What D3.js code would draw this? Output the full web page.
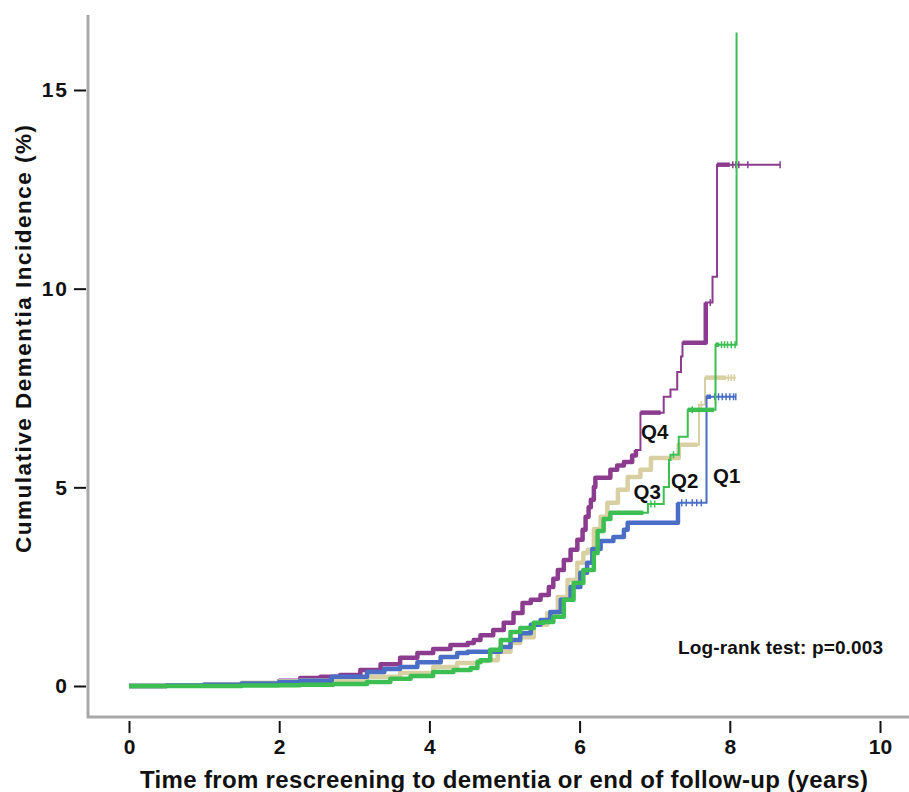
<!DOCTYPE html>
<html>
<head>
<meta charset="utf-8">
<script src="https://d3js.org/d3.v7.min.js"></script>
<style>
  body { margin: 0; background: #fff; }
  text { font-family: "Liberation Sans", Arial, Helvetica, sans-serif; font-weight: bold; fill: #111; }
</style>
</head>
<body>
<svg width="909" height="792"></svg>
<script>
// quartile groups, drawn in this order
const groups = ["Q4", "Q3", "Q1", "Q2"];
const colors = { Q1: "#4a6dc6", Q2: "#3dbe52", Q3: "#d8cfa2", Q4: "#8c3c8f" };

// Kaplan-Meier cumulative incidence steps: [time (years), incidence (%)]
const q1Steps = [[0,0],[0.5,0.01],[1,0.03],[1.5,0.06],[2,0.1],[2.28,0.13],[2.7,0.23],[3.17,0.35],[3.4,0.43],[3.61,0.48],[3.84,0.6],[4.15,0.73],[4.37,0.83],[4.51,0.86],[4.95,0.98],[5.08,1.16],[5.21,1.33],[5.35,1.54],[5.48,1.66],[5.61,1.86],[5.75,2.17],[5.88,2.49],[6.01,2.85],[6.1,3.1],[6.17,3.45],[6.28,3.65],[6.45,3.75],[6.59,3.93],[6.64,4.11],[7.31,4.61],[7.69,7.28]];
const q2Steps = [[0,0],[1,0],[1.5,0.01],[2,0.02],[2.28,0.03],[2.72,0.05],[3.17,0.1],[3.48,0.18],[3.75,0.25],[4.05,0.35],[4.32,0.4],[4.55,0.45],[4.64,0.6],[4.68,0.65],[4.81,0.91],[4.95,1.16],[5.08,1.36],[5.21,1.46],[5.39,1.59],[5.52,1.61],[5.65,1.74],[5.79,2.17],[5.92,2.59],[6.05,2.92],[6.19,3.35],[6.24,3.9],[6.32,4.2],[6.41,4.36],[6.91,4.58],[7.12,5.01],[7.19,5.69],[7.21,5.82],[7.32,6.27],[7.44,6.95],[7.81,8.59],[8.09,16.45]];
const q3Steps = [[0,0],[0.5,0.01],[1,0.04],[1.5,0.08],[2,0.12],[2.28,0.14],[2.72,0.15],[3.17,0.23],[3.61,0.33],[4.05,0.48],[4.37,0.58],[4.64,0.63],[4.77,0.65],[4.91,0.86],[5.08,1.08],[5.21,1.23],[5.39,1.54],[5.57,1.84],[5.71,2.24],[5.84,2.67],[5.97,3.1],[6.05,3.35],[6.11,3.43],[6.19,3.95],[6.28,4.26],[6.37,4.61],[6.51,4.94],[6.64,5.26],[6.81,5.44],[6.95,5.74],[7.32,6.07],[7.59,7.08],[7.67,7.76]];
const q4Steps = [[0,0],[0.5,0.01],[1,0.03],[1.5,0.07],[2,0.13],[2.28,0.2],[2.55,0.23],[2.81,0.28],[3.08,0.4],[3.35,0.55],[3.61,0.71],[3.84,0.83],[4.05,0.93],[4.28,1.03],[4.51,1.08],[4.59,1.16],[4.68,1.28],[4.85,1.41],[4.99,1.59],[5.12,1.84],[5.24,2.09],[5.35,2.17],[5.48,2.29],[5.59,2.49],[5.65,2.7],[5.71,2.92],[5.79,3.17],[5.88,3.43],[5.97,3.68],[6.04,3.93],[6.08,4.26],[6.12,4.5],[6.15,4.69],[6.19,5.01],[6.21,5.24],[6.41,5.44],[6.5,5.55],[6.59,5.64],[6.7,5.8],[6.75,5.94],[6.81,6.88],[7.12,7.28],[7.21,7.46],[7.3,7.9],[7.35,8.29],[7.37,8.64],[7.68,9.65],[7.77,10.3],[7.83,13.12]];

// last follow-up time of each group
const q1End = 8.08, q2End = 8.09, q3End = 8.08, q4End = 8.67;

// time spans with dense censoring (drawn as a thick band)
const q1Dense = [[0,7.31],[7.69,7.75]];
const q2Dense = [[0,6.85],[7.44,7.79],[7.81,7.86]];
const q3Dense = [[0,7.57],[7.67,7.95]];
const q4Dense = [[0,6.75],[6.81,7.08],[7.37,7.68],[7.83,8.0]];

// single censoring marks in the sparse tail
const q1Censor = [7.36,7.42,7.5,7.56,7.62,7.8,7.85,7.9,7.95,8.0,8.05,8.08];
const q2Censor = [6.95,7.0,7.25,7.5,7.89,7.93,7.97,8.02,8.07];
const q3Censor = [7.62,7.98,8.02,8.06];
const q4Censor = [7.74,8.04,8.08,8.12,8.24,8.67];

const xTicks = [0, 2, 4, 6, 8, 10];
const yTicks = [0, 5, 10, 15];

const series = {
  Q1: { steps: q1Steps, end: q1End, dense: q1Dense, censor: q1Censor },
  Q2: { steps: q2Steps, end: q2End, dense: q2Dense, censor: q2Censor },
  Q3: { steps: q3Steps, end: q3End, dense: q3Dense, censor: q3Censor },
  Q4: { steps: q4Steps, end: q4End, dense: q4Dense, censor: q4Censor }
};

const svg = d3.select("svg");
const x = d3.scaleLinear().domain([0, 10]).range([129, 880]);
const y = d3.scaleLinear().domain([0, 15]).range([686, 90]);

// frame
svg.append("line").attr("x1", 88).attr("x2", 88).attr("y1", 15).attr("y2", 718)
  .attr("stroke", "#a8a8a8").attr("stroke-width", 3);
svg.append("line").attr("x1", 87).attr("x2", 909).attr("y1", 717).attr("y2", 717)
  .attr("stroke", "#a8a8a8").attr("stroke-width", 3);

// axes
const xAxis = svg.append("g").attr("transform", "translate(0,721)")
  .call(d3.axisBottom(x).tickValues(xTicks).tickSize(12).tickPadding(6).tickFormat(d3.format("d")));
const yAxis = svg.append("g").attr("transform", "translate(86,0)")
  .call(d3.axisLeft(y).tickValues(yTicks).tickSize(12).tickPadding(5).tickFormat(d3.format("d")));
[xAxis, yAxis].forEach(g => {
  g.select(".domain").remove();
  g.selectAll(".tick line").attr("stroke", "#111").attr("stroke-width", 2);
  g.selectAll(".tick text").attr("fill", "#111").style("font-size", "21px")
    .style("font-family", "'Liberation Sans', Arial, sans-serif").style("font-weight", "bold");
});
yAxis.selectAll(".tick text").attr("letter-spacing", "2px");

function valueAt(steps, t) {
  let v = 0;
  steps.forEach(s => { if (s[0] <= t) v = s[1]; });
  return v;
}
function clip(steps, t0, t1) {
  const pts = [[t0, valueAt(steps, t0)]];
  steps.forEach(s => { if (s[0] > t0 && s[0] < t1) pts.push(s); });
  pts.push([t1, valueAt(steps, t1)]);
  return pts;
}

const line = d3.line().curve(d3.curveStepAfter).x(d => x(d[0])).y(d => y(d[1]));

groups.forEach(g => {
  const s = series[g];
  const c = colors[g];
  const full = s.steps.concat([[s.end, s.steps[s.steps.length - 1][1]]]);
  svg.append("path").attr("d", line(full)).attr("fill", "none")
    .attr("stroke", c).attr("stroke-width", 2);
  s.dense.forEach(r => {
    svg.append("path").attr("d", line(clip(s.steps, r[0], r[1]))).attr("fill", "none")
      .attr("stroke", c).attr("stroke-width", 4.5).attr("stroke-linejoin", "round");
  });
  const marks = svg.append("g").attr("stroke", c).attr("stroke-width", 1.5);
  s.censor.forEach(t => {
    const cx = x(t), cy = y(valueAt(s.steps, t));
    marks.append("line").attr("x1", cx).attr("x2", cx).attr("y1", cy - 3.5).attr("y2", cy + 3.5);
  });
});

// group labels
const lab = (t, v, s) => svg.append("text").attr("x", x(t)).attr("y", y(v)).attr("dy", "0.36em")
  .attr("text-anchor", "middle").style("font-size", "20.5px").text(s);
lab(7.0, 6.4, "Q4");
lab(6.9, 4.88, "Q3");
lab(7.4, 5.16, "Q2");
lab(7.96, 5.29, "Q1");

svg.append("text").attr("x", 678).attr("y", 654).style("font-size", "19px")
  .attr("textLength", 205).text("Log-rank test: p=0.003");

// axis titles
svg.append("text").attr("x", 504).attr("y", 788).attr("text-anchor", "middle")
  .style("font-size", "24px").attr("textLength", 728).text("Time from rescreening to dementia or end of follow-up (years)");
svg.append("text").attr("transform", "translate(31,339) rotate(-90)").attr("text-anchor", "middle")
  .style("font-size", "22.5px").attr("textLength", 428).text("Cumulative Dementia Incidence (%)");
</script>
</body>
</html>
